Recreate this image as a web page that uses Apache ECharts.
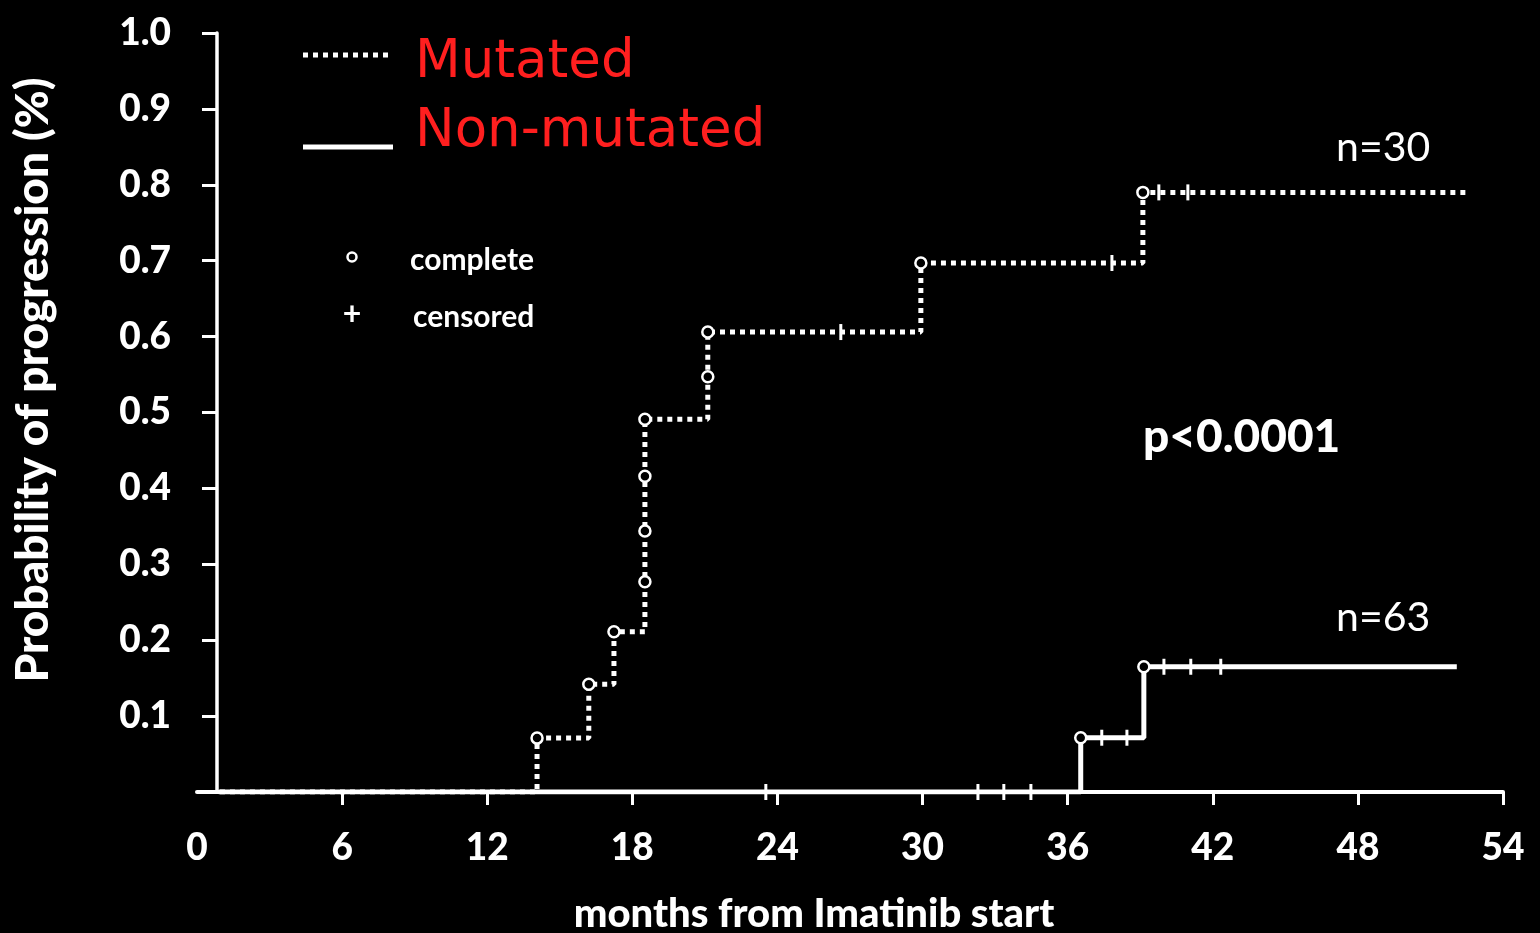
<!DOCTYPE html>
<html>
<head>
<meta charset="utf-8">
<script src="https://cdn.jsdelivr.net/npm/echarts@6/dist/echarts.min.js"></script>
<style>
html,body{margin:0;padding:0;background:#000;}
#chart{width:1540px;height:933px;}
</style>
</head>
<body>
<div id="chart"></div>
<script>
// ---- data ----
const xTickValues = [6, 12, 18, 24, 30, 36, 42, 48, 54];
const xLabelValues = [0, 6, 12, 18, 24, 30, 36, 42, 48, 54];
const yTickValues = [0.1, 0.2, 0.3, 0.4, 0.5, 0.6, 0.7, 0.8, 0.9, 1.0];

// Mutated (n=30)
const mutStepTimes  = [0.95, 14.06, 16.2, 17.24, 18.52, 21.12, 29.93, 39.11, 52.46];
const mutStepValues = [0, 0.071, 0.142, 0.211, 0.491, 0.606, 0.697, 0.79, 0.79];
const mutEventTimes  = [14.06, 16.2, 17.24, 18.52, 18.52, 18.52, 18.52, 21.12, 21.12, 29.93, 39.11];
const mutEventValues = [0.071, 0.142, 0.211, 0.277, 0.344, 0.416, 0.491, 0.547, 0.606, 0.697, 0.79];
const mutCensorTimes  = [26.62, 37.83, 39.77, 40.97];
const mutCensorValues = [0.606, 0.697, 0.79, 0.79];

// Non-mutated (n=63)
const nonStepTimes  = [0.9, 36.54, 39.15, 52.09];
const nonStepValues = [0, 0.0715, 0.165, 0.165];
const nonEventTimes  = [36.54, 39.15];
const nonEventValues = [0.0715, 0.165];
const nonCensorTimes  = [23.52, 32.29, 33.36, 34.48, 37.41, 38.45, 39.98, 41.09, 42.33];
const nonCensorValues = [0, 0, 0, 0, 0.0715, 0.0715, 0.165, 0.165, 0.165];

const zip = (a, b) => a.map((v, i) => [v, b[i]]);

const chart = echarts.init(document.getElementById('chart'));
const FONT = 'Lato';
const circleStyle = { color: '#000', borderColor: '#fff', borderWidth: 2.5, opacity: 1 };
const censorStyle = { color: '#fff', opacity: 1 };

chart.setOption({
  backgroundColor: '#000',
  animation: false,
  grid: { left: 197, right: 37, top: 33, bottom: 141, containLabel: false },
  xAxis: {
    type: 'value', min: 0, max: 54,
    axisLine: { show: true, lineStyle: { color: '#fff', width: 4 } },
    axisTick: { show: true, length: 13, lineStyle: { color: '#fff', width: 3 }, customValues: xTickValues },
    axisLabel: { color: '#fff', fontFamily: FONT, fontWeight: 900, fontSize: 37, margin: 38, customValues: xLabelValues },
    splitLine: { show: false }
  },
  yAxis: {
    type: 'value', min: 0, max: 1, offset: -20,
    axisLine: { show: true, lineStyle: { color: '#fff', width: 3.5 } },
    axisTick: { show: true, length: 15, lineStyle: { color: '#fff', width: 3 }, customValues: yTickValues },
    axisLabel: { color: '#fff', fontFamily: FONT, fontWeight: 900, fontSize: 37, margin: 46, padding: [0, 0, 10, 0],
      customValues: yTickValues, formatter: v => v.toFixed(1) },
    splitLine: { show: false }
  },
  series: [
    { type: 'line', step: 'end', data: zip(mutStepTimes, mutStepValues), symbol: 'none', z: 3,
      lineStyle: { color: '#fff', width: 5, type: [5, 5], cap: 'butt' } },
    { type: 'line', step: 'end', data: zip(nonStepTimes, nonStepValues), symbol: 'none', z: 3,
      lineStyle: { color: '#fff', width: 5, type: 'solid' } },
    { type: 'scatter', data: zip(mutCensorTimes, mutCensorValues), symbol: 'rect', symbolSize: [3, 16], z: 4,
      itemStyle: censorStyle },
    { type: 'scatter', data: zip(nonCensorTimes, nonCensorValues), symbol: 'rect', symbolSize: [3, 16], z: 4,
      itemStyle: censorStyle },
    { type: 'scatter', data: zip(mutEventTimes, mutEventValues), symbol: 'circle', symbolSize: 11, z: 5,
      itemStyle: circleStyle },
    { type: 'scatter', data: zip(nonEventTimes, nonEventValues), symbol: 'circle', symbolSize: 11, z: 5,
      itemStyle: circleStyle }
  ],
  graphic: [
    // axis titles
    { type: 'text', x: 33, y: 380, rotation: Math.PI / 2,
      style: { text: 'Probability of progression (%)', fill: '#fff', font: '900 46px Lato', align: 'center', verticalAlign: 'middle' } },
    { type: 'text', x: 814, y: 914,
      style: { text: 'months from Imatinib start', fill: '#fff', font: '900 40px Lato', align: 'center', verticalAlign: 'middle' } },
    // legend
    { type: 'line', shape: { x1: 303, y1: 55, x2: 393, y2: 55 },
      style: { stroke: '#fff', lineWidth: 5, lineDash: [5, 5], lineCap: 'butt' } },
    { type: 'line', shape: { x1: 303, y1: 147, x2: 393, y2: 147 },
      style: { stroke: '#fff', lineWidth: 5 } },
    { type: 'text', x: 415, y: 63,
      style: { text: 'Mutated', fill: '#ff1f1f', font: '53px "DejaVu Sans"', align: 'left', verticalAlign: 'middle' } },
    { type: 'text', x: 415, y: 132,
      style: { text: 'Non-mutated', fill: '#ff1f1f', font: '53px "DejaVu Sans"', align: 'left', verticalAlign: 'middle' } },
    { type: 'circle', shape: { cx: 352, cy: 257, r: 4.5 },
      style: { fill: '#000', stroke: '#fff', lineWidth: 2.5 } },
    { type: 'text', x: 352, y: 315,
      style: { text: '+', fill: '#fff', font: 'bold 32px Lato', align: 'center', verticalAlign: 'middle' } },
    { type: 'text', x: 410, y: 260,
      style: { text: 'complete', fill: '#fff', font: 'bold 30px Lato', align: 'left', verticalAlign: 'middle' } },
    { type: 'text', x: 413, y: 317,
      style: { text: 'censored', fill: '#fff', font: 'bold 30px Lato', align: 'left', verticalAlign: 'middle' } },
    // annotations
    { type: 'text', x: 1336, y: 148,
      style: { text: 'n=30', fill: '#fff', font: '41px Lato', align: 'left', verticalAlign: 'middle' } },
    { type: 'text', x: 1336, y: 618,
      style: { text: 'n=63', fill: '#fff', font: '41px Lato', align: 'left', verticalAlign: 'middle' } },
    { type: 'text', x: 1143, y: 437,
      style: { text: 'p<0.0001', fill: '#fff', font: '900 46px Lato', align: 'left', verticalAlign: 'middle' } }
  ]
});
</script>
</body>
</html>
